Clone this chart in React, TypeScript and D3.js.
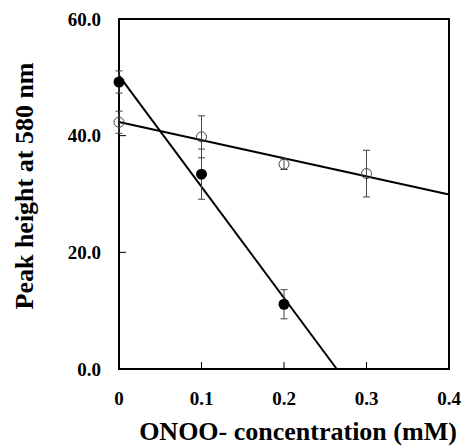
import React, { useEffect, useRef } from 'react';
import * as d3 from 'd3';

// ONOO- concentration (mM)
const filledConc = [0, 0.1, 0.2];
const filledPeak = [49.2, 33.4, 11.1];
const filledErr = [1.9, 4.3, 2.5];

const openConc = [0, 0.1, 0.2, 0.3];
const openPeak = [42.3, 39.8, 35.1, 33.5];
const openErr = [1.9, 3.6, 0.9, 4.0];

const xTicks = [0, 0.1, 0.2, 0.3, 0.4];
const xTickLabels = ['0', '0.1', '0.2', '0.3', '0.4'];
const yTicks = [0, 20, 40, 60];
const yTickLabels = ['0.0', '20.0', '40.0', '60.0'];

const FONT = '"Liberation Serif", "Times New Roman", serif';

function fit(xs: number[], ys: number[]) {
  const mx = d3.mean(xs) as number;
  const my = d3.mean(ys) as number;
  const sxy = d3.sum(xs, (x, i) => (x - mx) * (ys[i] - my));
  const sxx = d3.sum(xs, x => (x - mx) * (x - mx));
  const slope = sxy / sxx;
  return { slope, intercept: my - slope * mx };
}

function PeakChart() {
  const svgRef = useRef<SVGSVGElement>(null);

  useEffect(() => {
    const svg = d3.select(svgRef.current);
    svg.selectAll('*').remove();

    const left = 119, right = 449, top = 19, bottom = 369;

    const x = d3.scaleLinear().domain([0, 0.4]).range([left, right]);
    const y = d3.scaleLinear().domain([0, 60]).range([bottom, top]);

    // frame
    svg.append('rect')
      .attr('x', left).attr('y', top)
      .attr('width', right - left).attr('height', bottom - top)
      .attr('fill', 'none').attr('stroke', '#000').attr('stroke-width', 2);

    // inward ticks
    svg.append('g').selectAll('line')
      .data(xTicks.slice(1, -1))
      .enter().append('line')
      .attr('x1', d => x(d)).attr('x2', d => x(d))
      .attr('y1', bottom).attr('y2', bottom - 7)
      .attr('stroke', '#000').attr('stroke-width', 1);

    svg.append('g').selectAll('line')
      .data(yTicks.slice(1, -1))
      .enter().append('line')
      .attr('x1', left).attr('x2', left + 7)
      .attr('y1', d => y(d)).attr('y2', d => y(d))
      .attr('stroke', '#000').attr('stroke-width', 1);

    // tick labels
    svg.append('g').selectAll('text')
      .data(xTicks)
      .enter().append('text')
      .attr('x', d => x(d)).attr('y', 405)
      .attr('text-anchor', 'middle')
      .attr('font-family', FONT).attr('font-weight', 'bold').attr('font-size', 19)
      .text((d, i) => xTickLabels[i]);

    svg.append('g').selectAll('text')
      .data(yTicks)
      .enter().append('text')
      .attr('x', 101).attr('y', d => y(d)).attr('dy', '0.35em')
      .attr('text-anchor', 'end')
      .attr('font-family', FONT).attr('font-weight', 'bold').attr('font-size', 19)
      .text((d, i) => yTickLabels[i]);

    // axis titles
    svg.append('text')
      .attr('x', 298).attr('y', 440)
      .attr('text-anchor', 'middle')
      .attr('font-family', FONT).attr('font-weight', 'bold').attr('font-size', 26)
      .text('ONOO- concentration (mM)');

    svg.append('text')
      .attr('transform', 'translate(33,186) rotate(-90)')
      .attr('text-anchor', 'middle')
      .attr('font-family', FONT).attr('font-weight', 'bold').attr('font-size', 26)
      .text('Peak height at 580 nm');

    // regression lines
    const fFit = fit(filledConc, filledPeak);
    const oFit = fit(openConc, openPeak);
    const fEnd = Math.min(0.4, -fFit.intercept / fFit.slope);

    svg.append('line')
      .attr('x1', x(0)).attr('y1', y(fFit.intercept))
      .attr('x2', x(fEnd)).attr('y2', y(fFit.intercept + fFit.slope * fEnd))
      .attr('stroke', '#000').attr('stroke-width', 2);

    svg.append('line')
      .attr('x1', x(0)).attr('y1', y(oFit.intercept))
      .attr('x2', x(0.4)).attr('y2', y(oFit.intercept + oFit.slope * 0.4))
      .attr('stroke', '#000').attr('stroke-width', 2);

    // error bars
    const drawErr = (xs: number[], ys: number[], es: number[]) => {
      const g = svg.append('g').attr('stroke', '#444').attr('stroke-width', 1);
      xs.forEach((cx, i) => {
        const px = x(cx);
        const y1 = y(ys[i] + es[i]);
        const y2 = y(ys[i] - es[i]);
        g.append('line').attr('x1', px).attr('x2', px).attr('y1', y1).attr('y2', y2);
        g.append('line').attr('x1', px - 3.5).attr('x2', px + 3.5).attr('y1', y1).attr('y2', y1);
        g.append('line').attr('x1', px - 3.5).attr('x2', px + 3.5).attr('y1', y2).attr('y2', y2);
      });
    };
    drawErr(openConc, openPeak, openErr);
    drawErr(filledConc, filledPeak, filledErr);

    // markers
    svg.append('g').selectAll('circle')
      .data(openConc)
      .enter().append('circle')
      .attr('cx', d => x(d)).attr('cy', (d, i) => y(openPeak[i]))
      .attr('r', 5)
      .attr('fill', 'none').attr('stroke', '#444').attr('stroke-width', 1);

    svg.append('g').selectAll('circle')
      .data(filledConc)
      .enter().append('circle')
      .attr('cx', d => x(d)).attr('cy', (d, i) => y(filledPeak[i]))
      .attr('r', 5.5)
      .attr('fill', '#000');
  }, []);

  return (
    <svg ref={svgRef} width="468" height="447"
      style={{ position: 'absolute', left: 0, top: 0, background: '#fff' }}></svg>
  );
}

export default function App() {
  return <PeakChart />;
}
